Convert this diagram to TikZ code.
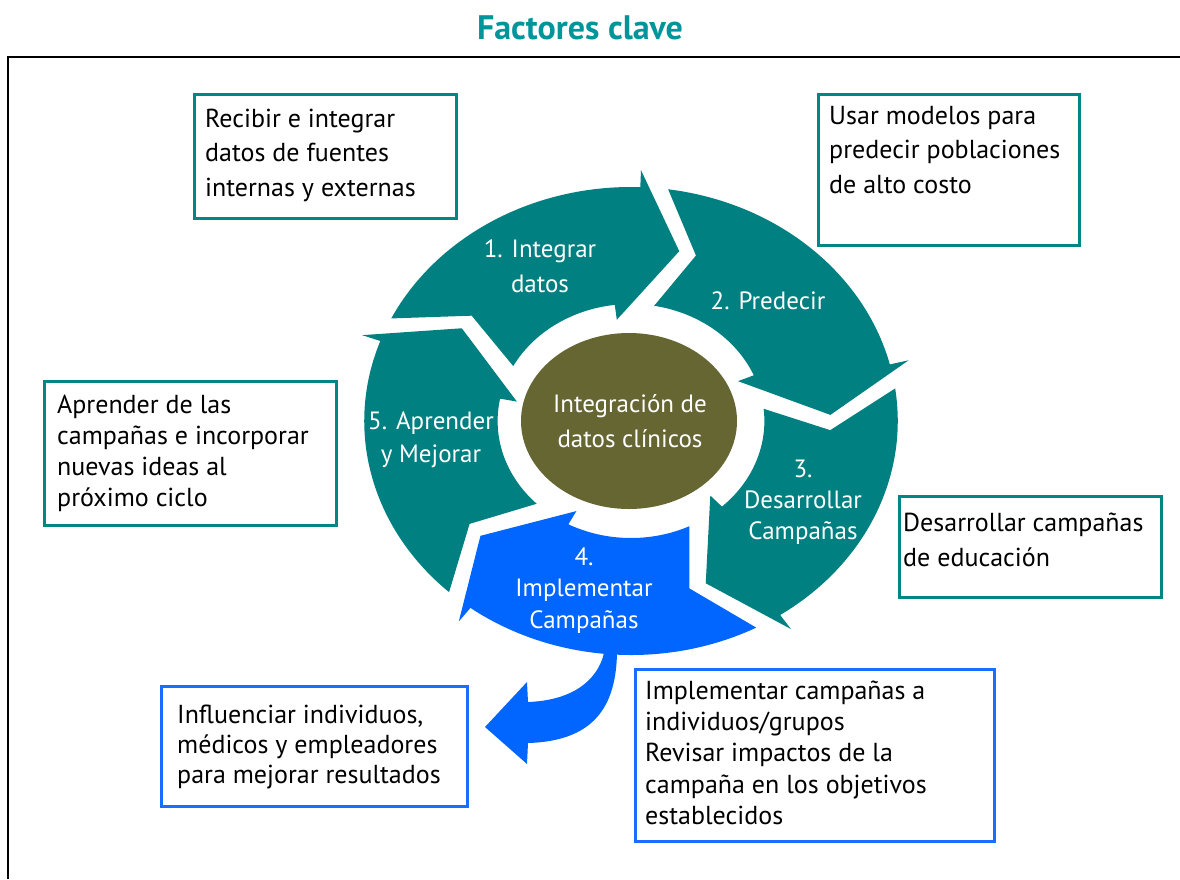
\documentclass[tikz,border=0pt]{standalone}
\usepackage{fontspec}
\setmainfont{PT Sans}
\usetikzlibrary{shapes.geometric}

\definecolor{segteal}{HTML}{008080}
\definecolor{boxteal}{HTML}{008784}
\definecolor{titleteal}{HTML}{00959A}
\definecolor{segblue}{HTML}{0066FF}
\definecolor{boxblue}{HTML}{1A6EFF}
\definecolor{hubolive}{HTML}{666633}

% radii of the cycle ring (pt)
\def\Ro{234pt}   % outer edge of the band
\def\Ri{117pt}   % inner edge of the band
\def\Rt{175pt}   % arrow tip / tail notch
\def\Rb{251pt}   % outer barb
\def\Rib{102pt}  % inner barb

% one chevron band of the cycle: #1 tip angle of the previous band, #2 own tip angle
\newcommand\cycseg[3]{%
  \fill[#3] (#1+6:\Ro) arc[start angle=#1+6, end angle=#2+12, radius=\Ro]
    -- (#2+12:\Rb) -- (#2:\Rt) -- (#2+21:\Rib) -- (#2+21:\Ri)
    arc[start angle=#2+21, end angle=#1+4, radius=\Ri]
    -- (#1-5:\Rt) -- cycle;}

% rows of text: style, name, x, first baseline, line step, lines
\newcommand\textrows[6]{%
  \foreach \txt [count=\k] in {#6} {
    \node[#1] (#2-\k) at ({#3},{#4+(\k-1)*#5}) {\txt};
  }}

\tikzset{
  tealbox/.style={draw=boxteal, line width=3pt, inner sep=0pt},
  bluebox/.style={draw=boxblue, line width=3pt, inner sep=0pt},
  bodytext/.style={font=\fontsize{26}{31}\selectfont, inner sep=0pt, text=black, anchor=base west},
  segtext/.style={font=\fontsize{25}{30}\selectfont, inner sep=0pt, text=white, anchor=base},
}

\begin{document}
\begin{tikzpicture}[x=1pt, y=-1pt]
\useasboundingbox (0,0) rectangle (1180,879);

% title and frame
\node[font=\fontsize{34}{40}\selectfont\bfseries, text=titleteal, anchor=base, inner sep=0pt]
  (title) at (580,39) {Factores clave};
\draw[line width=2pt] (8,879) -- (8,57) -- (1180,57);

% the five bands of the cycle
\begin{scope}[shift={(631,421)}, xscale=1.14]
  \cycseg{148}{76}{segteal}
  \cycseg{76}{2}{segteal}
  \cycseg{2}{-68}{segteal}
  \cycseg{-68}{-139}{segblue}
  \cycseg{-139}{-212}{segteal}
\end{scope}

% curved arrow leaving step 4
\fill[segblue] (605,645) .. controls (604,668) and (585,700) .. (528,702)
  -- (527,682) -- (485,727) -- (527,764) -- (528,743)
  .. controls (598,741) and (618,702) .. (617,645) -- cycle;

% hub
\node[ellipse, fill=hubolive, minimum width=216pt, minimum height=176pt, inner sep=0pt] (hub) at (629,421) {};
\textrows{segtext}{hubt}{630}{412}{35}{Integración de, datos clínicos}

% band labels
\textrows{segtext}{s1}{540}{257}{35}{1. Integrar, datos}
\textrows{segtext}{s2}{768}{309}{35}{2. Predecir}
\textrows{segtext}{s3}{803}{477}{31}{3., Desarrollar, Campañas}
\textrows{segtext}{s4}{584}{565}{31.5}{4., Implementar, Campañas}
\textrows{segtext}{s5}{431}{429}{33}{5. Aprender, y Mejorar}

% note boxes
\node[tealbox, minimum width=262pt, minimum height=124pt] (box1) at (325,156) {};
\textrows{bodytext}{b1}{205}{127}{34.5}{Recibir e integrar, datos de fuentes, internas y externas}

\node[tealbox, minimum width=261pt, minimum height=151pt] (box2) at (948.5,169.5) {};
\textrows{bodytext}{b2}{829}{124}{34.5}{Usar modelos para, predecir poblaciones, de alto costo}

\node[tealbox, minimum width=292pt, minimum height=144pt] (box5) at (190.5,453) {};
\textrows{bodytext}{b5}{57}{413}{31.3}{Aprender de las, campañas e incorporar, nuevas ideas al, próximo ciclo}

\node[tealbox, minimum width=262pt, minimum height=101pt] (box3) at (1030,546.5) {};
\textrows{bodytext}{b3}{903}{531}{35}{Desarrollar campañas, de educación}

\node[bluebox, minimum width=306pt, minimum height=120pt] (box4a) at (314,746) {};
\textrows{bodytext}{b4a}{177}{723}{30}{{Influenciar individuos,}, médicos y empleadores, para mejorar resultados}

\node[bluebox, minimum width=359pt, minimum height=172pt] (box4b) at (815,755) {};
\textrows{bodytext}{b4b}{645}{699}{31.4}{Implementar campañas a, individuos/grupos, Revisar impactos de la, campaña en los objetivos, establecidos}
\end{tikzpicture}
\end{document}
